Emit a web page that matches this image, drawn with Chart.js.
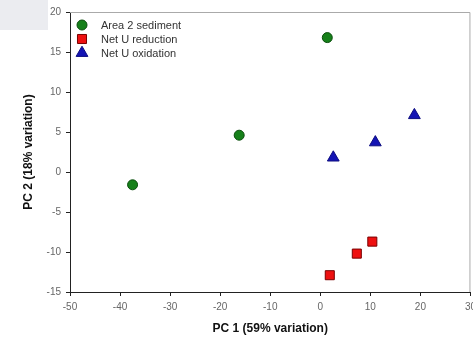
<!DOCTYPE html>
<html>
<head>
<meta charset="utf-8">
<script src="https://cdn.jsdelivr.net/npm/chart.js@4"></script>
<style>
  html, body { margin: 0; padding: 0; background: #fff; overflow: hidden; }
  #wrap { position: relative; width: 473px; height: 340px; overflow: hidden; }
  #corner { position: absolute; left: 0; top: 0; width: 48px; height: 30px; background: #ebecf0; z-index: 1; }
  canvas { position: absolute; left: 0; top: 0; }
</style>
</head>
<body>
<div id="wrap">
  <div id="corner"></div>
  <!-- canvas a little wider than the frame: the "30" label gets cut off at the edge like the original -->
  <canvas id="c" width="481" height="340"></canvas>
</div>
<script>
// PCA scatter — sediment vs U reduction / oxidation

const SERIES_NAMES = ['Area 2 sediment', 'Net U reduction', 'Net U oxidation'];
const sedimentX = [-37.5, -16.2, 1.4];
const sedimentY = [-1.6, 4.6, 16.8];
const reductionX = [1.9, 7.3, 10.4];
const reductionY = [-12.9, -10.2, -8.7];
const oxidationX = [2.6, 11.0, 18.8];
const oxidationY = [1.8, 3.7, 7.1];
const X_TICKS = [-50, -40, -30, -20, -10, 0, 10, 20, 30];
const Y_TICKS = [-15, -10, -5, 0, 5, 10, 15, 20];

const AXIS = '#222';
const TICK_TEXT = '#666';
const FONT = 'Arial, "Liberation Sans", sans-serif';

const pts = (xs, ys) => xs.map((x, i) => ({ x, y: ys[i] }));

const STYLES = [
  { pointStyle: 'circle', radius: 5, bg: '#16801a', border: '#0b4d0d' },
  { pointStyle: 'rect', radius: 6.4, bg: '#ee1010', border: '#7a0000' },
  { pointStyle: 'triangle', radius: 6.8, bg: '#1414b4', border: '#0c0c80' }
];

// box frame (top + right in light gray)
const frame = {
  id: 'frame',
  beforeDatasetsDraw(chart) {
    const { ctx, chartArea: a } = chart;
    ctx.save();
    ctx.strokeStyle = '#aaa';
    ctx.lineWidth = 1;
    ctx.beginPath();
    ctx.moveTo(a.left, a.top + 0.5);
    ctx.lineTo(a.right - 0.5, a.top + 0.5);
    ctx.lineTo(a.right - 0.5, a.bottom);
    ctx.stroke();
    ctx.restore();
  }
};

// legend drawn inside the plot, top-left
const insideLegend = {
  id: 'insideLegend',
  afterDraw(chart) {
    const { ctx, chartArea: a } = chart;
    ctx.save();
    ctx.font = '11px ' + FONT;
    ctx.textBaseline = 'middle';
    chart.data.datasets.forEach((ds, i) => {
      const y = a.top + 13 + i * 14;
      const x = a.left + 12;
      ctx.fillStyle = ds.backgroundColor;
      ctx.strokeStyle = ds.borderColor;
      ctx.lineWidth = 1;
      Chart.helpers.drawPoint(ctx, { pointStyle: ds.pointStyle, radius: ds.pointRadius, borderWidth: 1 }, x, y);
      ctx.fillStyle = '#333';
      ctx.fillText(ds.label, a.left + 31, y + 0.5);
    });
    ctx.restore();
  }
};

new Chart(document.getElementById('c'), {
  type: 'scatter',
  data: {
    datasets: [
      [sedimentX, sedimentY],
      [reductionX, reductionY],
      [oxidationX, oxidationY]
    ].map(([xs, ys], i) => ({
      label: SERIES_NAMES[i],
      data: pts(xs, ys),
      pointStyle: STYLES[i].pointStyle,
      pointRadius: STYLES[i].radius,
      pointHoverRadius: STYLES[i].radius,
      backgroundColor: STYLES[i].bg,
      borderColor: STYLES[i].border,
      borderWidth: 1
    }))
  },
  options: {
    responsive: false,
    animation: false,
    layout: { padding: { top: 12, right: 3, left: 0, bottom: 0 } },
    plugins: { legend: { display: false }, tooltip: { enabled: false } },
    scales: {
      x: {
        type: 'linear', min: -50, max: 30,
        afterBuildTicks: s => { s.ticks = X_TICKS.map(v => ({ value: v })); },
        afterFit: s => { s.height = 48; },
        ticks: { color: TICK_TEXT, font: { family: FONT, size: 10 }, padding: 5, maxRotation: 0 },
        grid: { drawOnChartArea: false, tickLength: 4, color: AXIS },
        border: { color: AXIS, width: 1 },
        title: { display: true, text: 'PC 1 (59% variation)', color: '#111', font: { family: FONT, size: 12, weight: 'bold' }, padding: { top: 8 } }
      },
      y: {
        type: 'linear', min: -15, max: 20,
        afterBuildTicks: s => { s.ticks = Y_TICKS.map(v => ({ value: v })); },
        afterFit: s => { s.width = 70; },
        ticks: { color: TICK_TEXT, font: { family: FONT, size: 10 }, padding: 5 },
        grid: { drawOnChartArea: false, tickLength: 4, color: AXIS },
        border: { color: AXIS, width: 1 },
        title: { display: true, text: 'PC 2 (18% variation)', color: '#111', font: { family: FONT, size: 12, weight: 'bold' }, padding: { top: 21, bottom: 0 } }
      }
    }
  },
  plugins: [frame, insideLegend]
});
</script>
</body>
</html>
